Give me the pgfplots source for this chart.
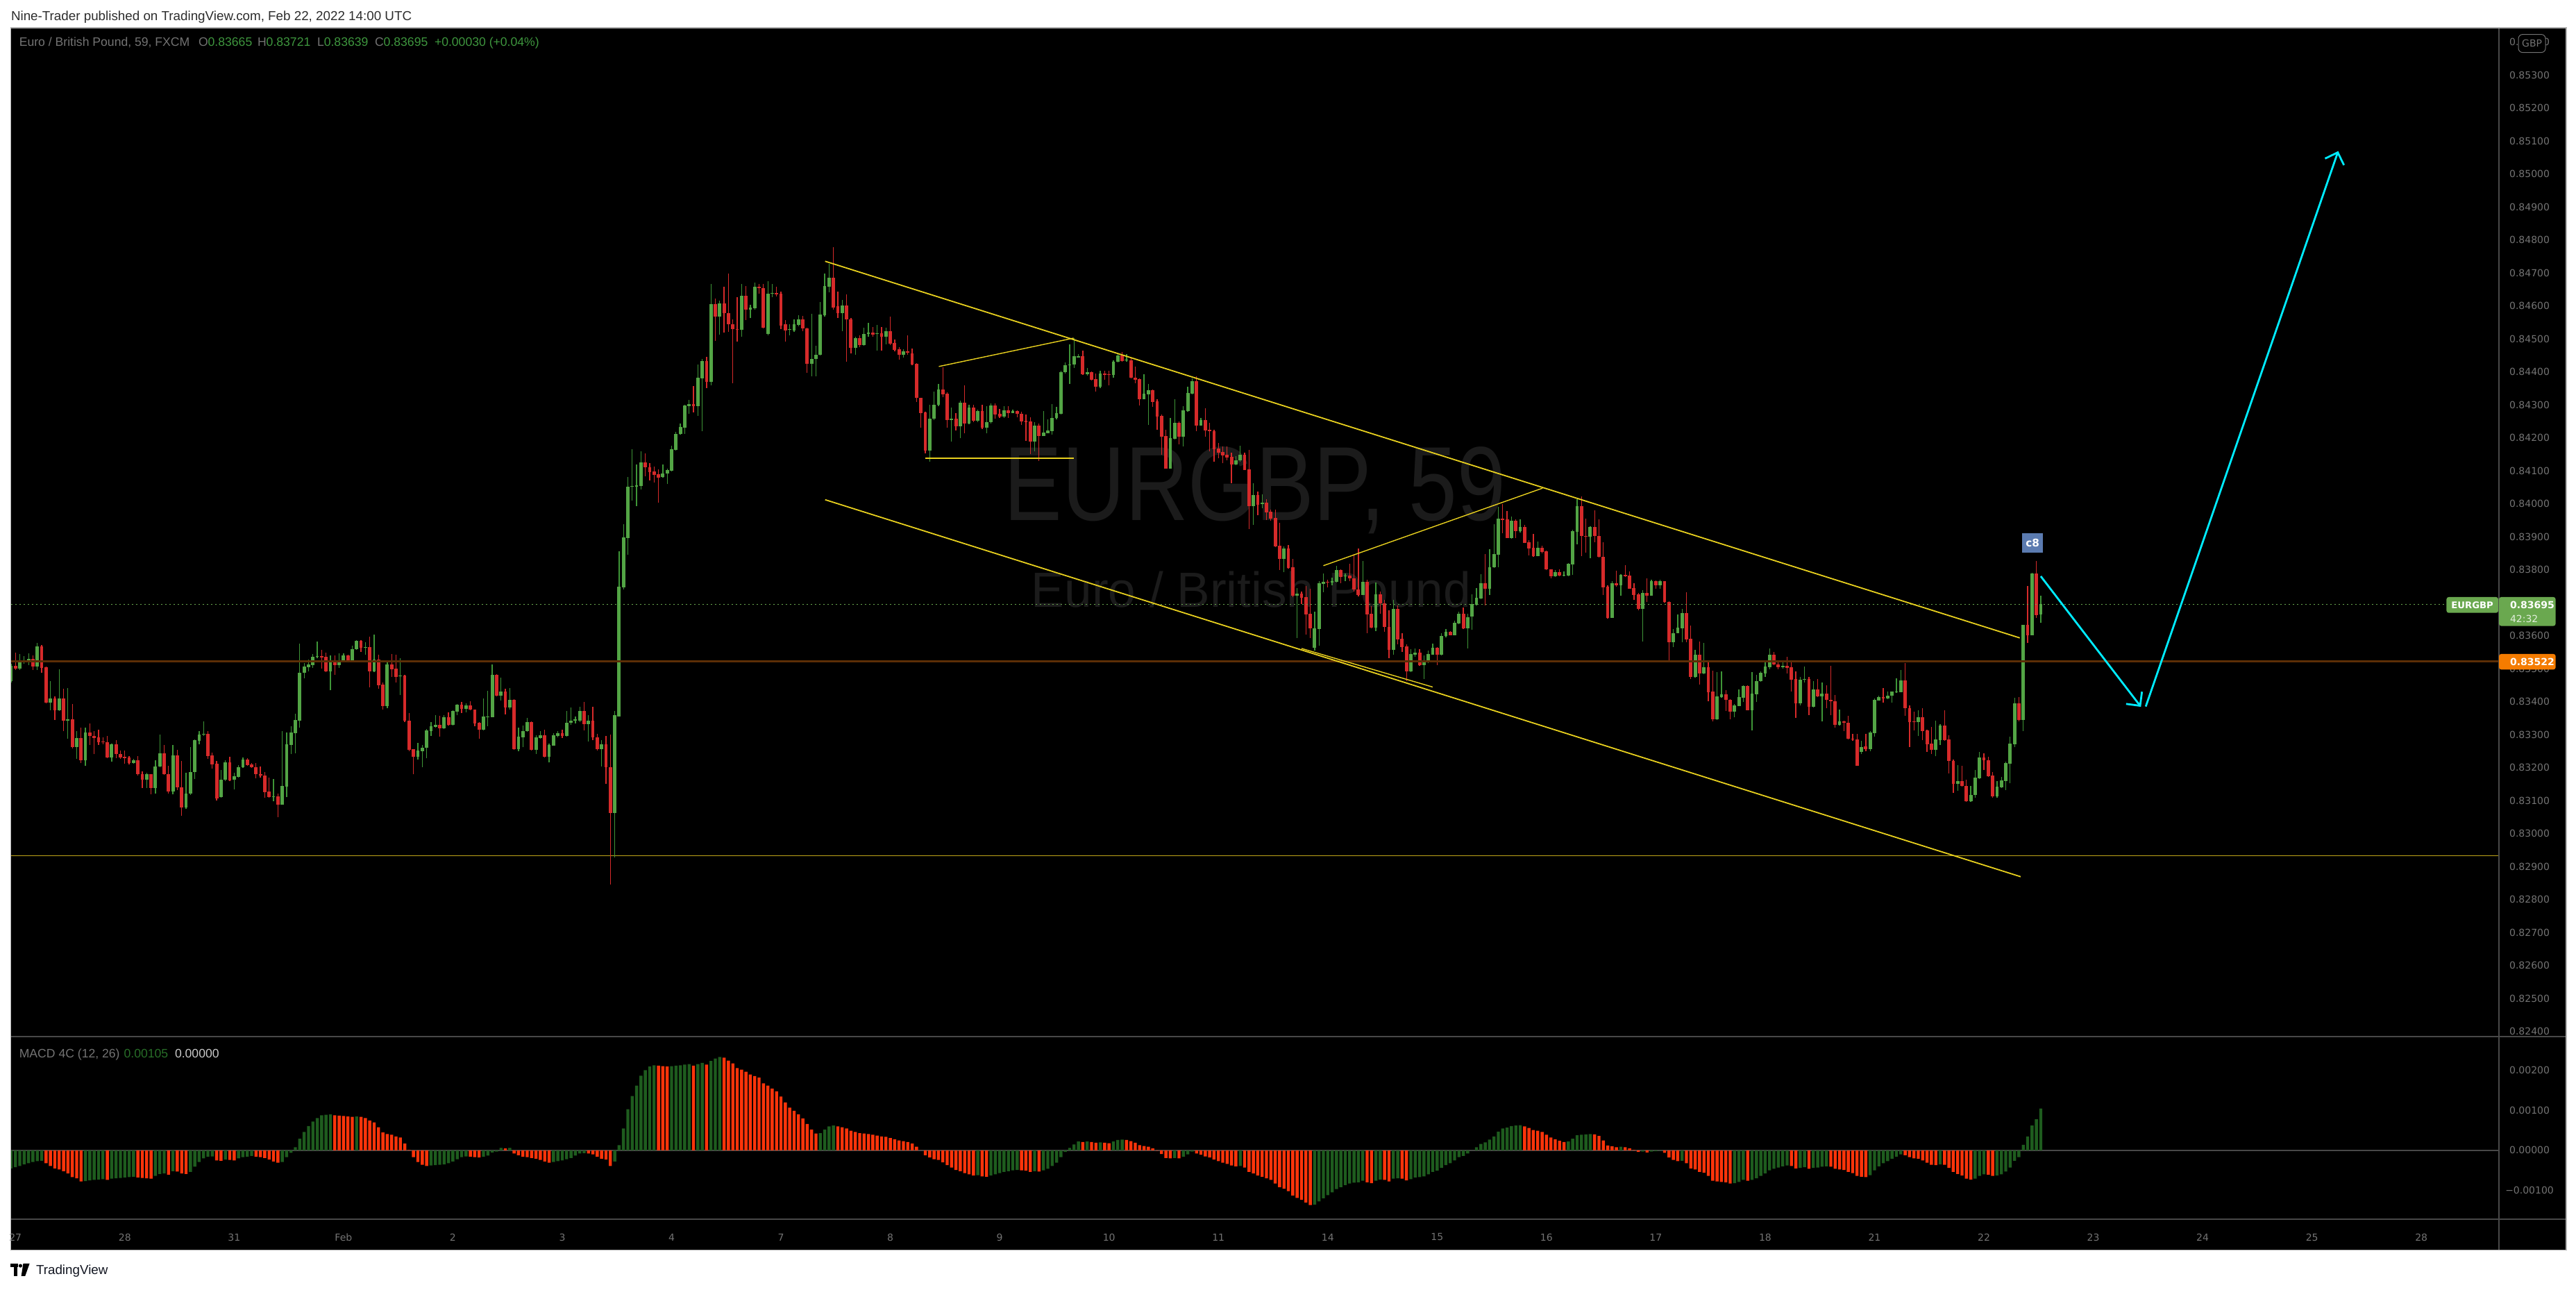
\documentclass[border=0pt]{standalone}
\usepackage{graphicx}
\usepackage{pgfplots}
\pgfplotsset{compat=1.18}
\usepackage{pgfplotstable}
\usetikzlibrary{arrows.meta}
\usepackage{fontspec}
\setmainfont{Liberation Sans}
\newfontfamily\dvs{DejaVu Sans}
\definecolor{upc}{RGB}{83,165,69}
\definecolor{upw}{RGB}{62,150,55}
\definecolor{dnc}{RGB}{214,42,42}
\definecolor{mg}{RGB}{30,92,30}
\definecolor{mr}{RGB}{255,52,10}
\definecolor{txt}{RGB}{115,115,115}
\definecolor{sep}{RGB}{72,72,72}
\definecolor{chan}{RGB}{232,208,30}
\definecolor{hyel}{RGB}{190,165,25}
\definecolor{brn}{RGB}{92,46,6}
\definecolor{cyn}{RGB}{0,235,255}
\definecolor{lg}{RGB}{62,150,62}
\definecolor{tvg}{RGB}{106,168,79}
\definecolor{tvo}{RGB}{245,124,0}
\definecolor{cbox}{RGB}{91,123,176}
\definecolor{wm}{RGB}{27,27,27}
\definecolor{hdr}{RGB}{45,45,45}
\newcommand\axf{\dvs\fontsize{3.5pt}{4pt}\selectfont}
\pgfplotstableread{
k o h l c
-1 83463 83514 83457 83509
1 83499 83545 83496 83519
2 83519 83537 83514 83522
3 83521 83547 83510 83530
5 83507 83578 83496 83568
8 83396 83462 83373 83410
10 83373 83498 83372 83410
12 83341 83441 83288 83346
14 83261 83311 83227 83290
16 83221 83320 83205 83307
22 83231 83273 83217 83271
27 83213 83226 83212 83222
30 83164 83184 83137 83180
32 83137 83222 83122 83203
33 83203 83300 83201 83243
36 83127 83269 83118 83236
39 83079 83184 83074 83121
40 83121 83261 83117 83186
41 83186 83285 83166 83283
42 83282 83310 83271 83300
43 83299 83340 83296 83303
47 83111 83193 83109 83163
48 83163 83222 83159 83216
50 83163 83184 83134 83174
51 83172 83208 83170 83201
52 83200 83231 83198 83224
59 83111 83165 83097 83113
61 83088 83310 83087 83144
62 83142 83307 83111 83271
63 83269 83325 83240 83307
64 83305 83363 83244 83344
65 83343 83576 83320 83488
66 83487 83517 83471 83507
67 83505 83528 83492 83512
68 83511 83544 83503 83536
69 83535 83582 83531 83538
72 83492 83540 83434 83525
74 83511 83547 83501 83525
75 83524 83546 83520 83540
77 83525 83570 83523 83559
78 83558 83587 83556 83584
80 83564 83579 83543 83565
82 83492 83603 83489 83528
85 83387 83519 83379 83512
88 83476 83531 83419 83478
92 83233 83274 83225 83251
93 83250 83268 83201 83260
94 83259 83316 83228 83313
95 83311 83337 83296 83325
96 83324 83359 83320 83329
98 83318 83358 83316 83353
100 83330 83373 83328 83372
101 83370 83392 83358 83390
103 83377 83394 83368 83389
107 83314 83410 83312 83354
108 83353 83432 83326 83355
109 83353 83512 83352 83481
111 83417 83472 83403 83430
113 83383 83441 83375 83405
115 83256 83320 83250 83294
116 83292 83327 83261 83310
117 83310 83351 83308 83337
119 83254 83298 83242 83291
120 83290 83311 83288 83297
122 83233 83273 83215 83269
123 83267 83304 83266 83298
124 83296 83310 83292 83304
126 83296 83371 83294 83335
127 83335 83382 83329 83343
128 83343 83355 83333 83346
129 83341 83385 83338 83372
131 83332 83359 83279 83343
134 83255 83283 83203 83270
137 83062 83371 82928 83358
138 83355 83856 83355 83749
139 83747 83937 83739 83897
140 83895 84081 83846 84051
141 84051 84166 84010 84054
142 84051 84119 83993 84055
143 84053 84158 84042 84126
148 84080 84119 84078 84092
149 84091 84106 84059 84101
150 84100 84175 84097 84166
151 84163 84218 84160 84212
152 84212 84243 84209 84232
153 84230 84299 84212 84297
154 84296 84314 84273 84301
156 84296 84422 84266 84382
157 84380 84438 84219 84433
159 84370 84666 84359 84605
161 84568 84616 84512 84607
166 84527 84666 84507 84631
168 84589 84603 84562 84594
169 84592 84670 84589 84658
172 84514 84675 84511 84637
173 84637 84667 84627 84639
177 84527 84544 84511 84529
178 84525 84559 84520 84544
179 84542 84572 84538 84559
182 84424 84576 84386 84439
183 84438 84478 84386 84452
184 84451 84611 84449 84573
185 84572 84698 84568 84659
186 84658 84728 84640 84685
189 84577 84618 84523 84601
192 84472 84507 84452 84501
194 84481 84533 84478 84514
195 84514 84549 84507 84519
197 84514 84542 84465 84516
199 84507 84533 84484 84524
203 84451 84468 84442 84462
209 84161 84299 84128 84258
210 84257 84340 84253 84300
211 84299 84364 84296 84347
214 84253 84292 84188 84258
216 84235 84312 84199 84307
218 84243 84299 84240 84292
220 84251 84286 84247 84281
222 84230 84296 84213 84248
223 84247 84305 84244 84297
226 84265 84296 84260 84283
228 84275 84285 84274 84280
233 84189 84247 84158 84237
235 84205 84280 84205 84216
236 84213 84255 84213 84221
237 84219 84302 84209 84260
238 84259 84293 84255 84275
239 84273 84402 84270 84399
240 84398 84428 84395 84420
241 84419 84484 84364 84422
242 84421 84503 84412 84448
243 84444 84454 84442 84448
245 84392 84412 84389 84399
248 84355 84402 84350 84395
251 84390 84435 84383 84431
252 84431 84454 84429 84450
254 84434 84454 84431 84435
258 84317 84392 84316 84334
259 84331 84364 84238 84344
264 84107 84260 84106 84198
265 84197 84316 84195 84246
267 84202 84295 84174 84282
268 84281 84354 84278 84335
269 84334 84379 84331 84371
271 84237 84259 84236 84253
279 84119 84144 84117 84132
280 84132 84176 84128 84148
283 83993 84063 83936 84027
285 83998 84029 83987 84002
290 83832 83871 83792 83864
293 83721 83744 83593 83728
297 83564 83672 83555 83621
298 83620 83765 83570 83759
299 83757 83788 83731 83763
301 83760 83776 83753 83765
302 83763 83811 83761 83799
304 83779 83789 83766 83783
308 83724 83826 83723 83763
311 83625 83761 83614 83725
315 83557 83708 83542 83681
319 83492 83558 83490 83545
320 83543 83560 83535 83548
322 83510 83539 83468 83519
323 83518 83555 83516 83545
324 83543 83575 83542 83563
326 83541 83608 83539 83598
327 83598 83620 83595 83612
329 83602 83646 83600 83639
330 83637 83673 83635 83666
332 83621 83666 83562 83656
333 83657 83725 83617 83696
334 83694 83745 83692 83715
335 83713 83787 83710 83759
337 83743 83862 83724 83808
338 83807 83938 83805 83847
339 83846 83991 83808 83955
342 83896 83962 83894 83948
344 83917 83953 83913 83929
348 83842 83885 83840 83866
352 83780 83798 83778 83793
354 83782 83794 83780 83784
355 83782 83819 83780 83817
356 83816 83922 83784 83917
357 83915 84014 83877 83993
360 83899 83932 83835 83929
365 83654 83766 83654 83759
367 83752 83787 83722 83784
372 83682 83738 83582 83730
374 83722 83770 83720 83765
376 83752 83769 83741 83765
379 83579 83619 83566 83608
380 83608 83664 83607 83624
381 83623 83682 83580 83668
384 83475 83556 83473 83542
386 83485 83578 83484 83504
389 83347 83489 83345 83415
390 83414 83492 83412 83422
393 83370 83393 83352 83389
394 83387 83436 83386 83414
395 83412 83450 83398 83447
397 83374 83489 83312 83424
398 83423 83482 83398 83462
399 83461 83492 83459 83487
400 83486 83524 83475 83506
401 83505 83561 83498 83542
404 83505 83520 83499 83508
408 83394 83475 83389 83466
409 83466 83506 83457 83468
411 83384 83462 83381 83436
413 83415 83457 83339 83424
417 83329 83375 83327 83339
422 83247 83282 83240 83263
424 83255 83311 83249 83306
425 83305 83410 83294 83405
426 83404 83417 83403 83414
428 83410 83431 83408 83417
429 83417 83431 83396 83430
430 83428 83471 83426 83431
431 83429 83496 83428 83464
435 83337 83373 83295 83352
439 83254 83342 83234 83285
440 83284 83331 83269 83327
444 83150 83207 83129 83159
447 83097 83144 83096 83116
448 83116 83192 83108 83170
449 83168 83247 83166 83231
453 83113 83158 83108 83142
454 83140 83172 83138 83160
455 83159 83217 83132 83214
456 83212 83294 83152 83273
457 83271 83412 83261 83394
459 83345 83633 83311 83633
461 83601 83791 83601 83789
463 83665 83721 83639 83695
}\upcandles
\pgfplotstableread{
k o h l c
0 83509 83549 83496 83499
4 83530 83540 83496 83507
6 83568 83571 83487 83503
7 83504 83507 83394 83396
9 83410 83415 83345 83373
11 83410 83439 83311 83341
13 83346 83393 83257 83261
15 83290 83320 83214 83221
17 83307 83333 83268 83295
18 83296 83310 83240 83290
19 83292 83314 83269 83277
20 83279 83291 83271 83276
21 83277 83296 83228 83231
23 83271 83283 83228 83240
24 83241 83252 83226 83231
25 83233 83252 83212 83228
26 83231 83235 83210 83213
28 83222 83235 83175 83179
29 83180 83188 83137 83164
31 83180 83180 83118 83137
34 83243 83269 83177 83179
35 83180 83205 83122 83127
37 83236 83254 83132 83141
38 83141 83220 83054 83079
44 83303 83311 83227 83235
45 83236 83245 83196 83210
46 83212 83220 83101 83107
49 83216 83233 83159 83160
53 83224 83229 83205 83207
54 83210 83214 83198 83200
55 83201 83214 83168 83179
56 83180 83203 83170 83175
57 83176 83186 83109 83126
58 83127 83170 83109 83111
60 83113 83120 83050 83088
70 83538 83556 83500 83534
71 83536 83549 83490 83492
73 83525 83540 83482 83511
76 83540 83542 83518 83525
79 83584 83587 83550 83564
81 83565 83596 83444 83492
83 83528 83542 83438 83450
84 83452 83457 83375 83387
86 83512 83545 83475 83498
87 83499 83542 83457 83475
89 83478 83482 83338 83341
90 83342 83365 83250 83254
91 83255 83255 83179 83233
97 83329 83356 83294 83318
99 83353 83368 83327 83330
102 83390 83398 83365 83377
104 83389 83401 83373 83375
105 83376 83376 83326 83334
106 83336 83338 83287 83314
110 83481 83484 83415 83417
112 83431 83438 83362 83383
114 83405 83408 83254 83256
118 83337 83339 83252 83254
121 83297 83314 83231 83233
125 83304 83314 83290 83296
130 83372 83398 83312 83332
132 83343 83385 83283 83292
133 83292 83303 83251 83255
135 83270 83296 83151 83201
136 83201 83300 82845 83062
144 84126 84153 84083 84110
145 84110 84123 84071 84096
146 84098 84113 84064 84087
147 84089 84104 84003 84079
155 84301 84357 84277 84296
158 84433 84446 84351 84370
160 84605 84622 84494 84568
162 84607 84658 84519 84577
163 84577 84698 84520 84544
164 84545 84559 84366 84529
165 84529 84627 84491 84527
167 84631 84659 84557 84589
170 84658 84667 84637 84653
171 84654 84666 84531 84533
174 84639 84657 84628 84635
175 84637 84642 84529 84540
176 84544 84557 84491 84525
180 84559 84570 84524 84531
181 84531 84533 84396 84424
187 84685 84778 84588 84594
188 84598 84644 84563 84577
190 84601 84635 84430 84558
191 84559 84562 84455 84472
193 84501 84510 84475 84481
196 84519 84536 84507 84512
198 84516 84536 84465 84507
200 84524 84568 84481 84485
201 84488 84497 84462 84467
202 84468 84475 84436 84451
204 84462 84511 84452 84458
205 84456 84470 84419 84422
206 84424 84426 84309 84321
207 84321 84321 84231 84275
208 84277 84279 84153 84161
212 84347 84413 84322 84331
213 84334 84338 84231 84253
215 84258 84275 84221 84235
217 84307 84359 84213 84243
219 84292 84299 84247 84251
221 84281 84299 84227 84230
224 84297 84305 84257 84271
225 84273 84288 84260 84265
227 84283 84296 84260 84275
229 84280 84282 84261 84272
230 84272 84278 84238 84249
231 84252 84270 84190 84247
232 84249 84262 84151 84189
234 84237 84242 84130 84205
244 84448 84464 84390 84392
246 84399 84400 84373 84376
247 84378 84395 84340 84355
249 84395 84402 84376 84391
250 84392 84404 84358 84390
253 84450 84460 84431 84432
255 84435 84442 84379 84381
256 84381 84415 84366 84376
257 84377 84379 84297 84317
260 84344 84347 84293 84308
261 84311 84316 84224 84264
262 84266 84270 84148 84203
263 84205 84224 84107 84107
266 84246 84249 84180 84202
270 84371 84387 84220 84237
272 84253 84289 84203 84222
273 84224 84246 84158 84219
274 84220 84225 84127 84165
275 84167 84184 84138 84155
276 84157 84174 84122 84146
277 84148 84174 84132 84140
278 84141 84155 84063 84119
281 84148 84154 84102 84103
282 84104 84163 83924 83993
284 84027 84037 83965 83996
286 84002 84014 83951 83974
287 83975 83981 83949 83955
288 83956 83981 83868 83871
289 83872 83941 83799 83832
291 83864 83874 83803 83806
292 83807 83832 83717 83721
294 83728 83734 83695 83715
295 83717 83751 83604 83665
296 83666 83742 83593 83621
300 83763 83769 83746 83760
303 83799 83802 83759 83778
305 83783 83817 83765 83773
306 83774 83848 83734 83739
307 83740 83864 83719 83724
309 83763 83769 83608 83665
310 83666 83689 83623 83625
312 83725 83734 83666 83698
313 83698 83708 83612 83626
314 83627 83677 83532 83557
316 83681 83692 83574 83589
317 83591 83608 83551 83566
318 83568 83574 83463 83492
321 83548 83558 83509 83510
325 83563 83566 83510 83541
328 83612 83614 83600 83602
331 83666 83685 83620 83621
336 83759 83847 83692 83743
340 83955 83999 83910 83951
341 83953 83978 83896 83896
343 83948 83952 83896 83917
345 83929 83936 83880 83882
346 83883 83889 83843 83864
347 83866 83908 83838 83841
349 83866 83873 83850 83854
350 83856 83857 83798 83800
351 83801 83802 83774 83780
353 83793 83802 83780 83782
358 83993 84022 83842 83901
359 83902 83955 83852 83899
361 83929 83980 83884 83901
362 83902 83952 83836 83838
363 83839 83883 83724 83747
364 83748 83752 83652 83654
366 83759 83796 83748 83752
368 83784 83814 83777 83780
369 83781 83795 83741 83743
370 83744 83759 83708 83724
371 83725 83730 83676 83680
373 83730 83773 83703 83722
375 83765 83767 83743 83752
377 83765 83766 83699 83701
378 83702 83704 83522 83579
382 83668 83731 83580 83589
383 83590 83631 83469 83475
385 83542 83582 83452 83485
387 83504 83522 83400 83429
388 83431 83494 83339 83347
391 83422 83435 83372 83405
392 83406 83408 83347 83370
396 83447 83449 83373 83374
402 83542 83551 83510 83512
403 83513 83524 83498 83505
405 83508 83536 83485 83503
406 83504 83520 83431 83466
407 83468 83492 83351 83394
410 83468 83475 83359 83384
412 83436 83468 83414 83415
414 83424 83449 83379 83405
415 83406 83508 83358 83400
416 83401 83419 83320 83329
418 83340 83343 83310 83336
419 83336 83357 83285 83287
420 83287 83303 83282 83285
421 83285 83303 83206 83206
423 83264 83303 83249 83255
427 83414 83440 83396 83410
432 83464 83517 83357 83379
433 83380 83389 83263 83337
434 83338 83370 83312 83337
436 83352 83380 83284 83311
437 83313 83315 83248 83271
438 83273 83324 83242 83254
441 83327 83373 83282 83283
442 83285 83297 83182 83219
443 83220 83224 83124 83150
445 83159 83205 83142 83144
446 83144 83163 83096 83097
450 83231 83243 83193 83221
451 83222 83233 83172 83173
452 83175 83186 83108 83113
458 83394 83414 83340 83345
460 83633 83750 83577 83601
462 83789 83826 83654 83663
}\dncandles
\begin{document}
\begin{tikzpicture}
\fill[white] (0pt,0pt) rectangle (927.75pt,-464.5pt);
\fill[black] (3.75pt,-10pt) rectangle (924.25pt,-450.25pt);
% watermark
\node[anchor=base west, inner sep=0pt, text=wm] at (361.5pt,-187.5pt) {\resizebox{180.5pt}{26.5pt}{EURGBP, 59}};
\node[anchor=base west, inner sep=0pt, text=wm, font=\fontsize{17.8pt}{20pt}\selectfont] at (371.25pt,-218.75pt) {Euro / British Pound};
% main price pane
\begin{axis}[
  at={(3.75pt,-10pt)}, anchor=north west,
  width=896.25pt, height=363.25pt, scale only axis,
  xmin=-1.111, xmax=567.75, ymin=82384.4, ymax=85443,
  axis line style={draw=none}, major tick length=0pt,
  scaled y ticks=false, scaled x ticks=false,
  xtick=\empty,
  ytick={82400,82500,82600,82700,82800,82900,83000,83100,83200,83300,83400,83500,83600,83700,83800,83900,84000,84100,84200,84300,84400,84500,84600,84700,84800,84900,85000,85100,85200,85300,85400},
  yticklabels={0.82400,0.82500,0.82600,0.82700,0.82800,0.82900,0.83000,0.83100,0.83200,0.83300,0.83400,0.83500,0.83600,0.83700,0.83800,0.83900,0.84000,0.84100,0.84200,0.84300,0.84400,0.84500,0.84600,0.84700,0.84800,0.84900,0.85000,0.85100,0.85200,0.85300,0.85400},
  yticklabel pos=right,
  yticklabel style={anchor=center, xshift=11pt, font=\axf, text=txt},
]
\draw[hyel, line width=0.4pt] (axis cs:-2,82933) -- (axis cs:570,82933);
% wicks
\addplot[upw, line width=0.32pt, mark=none, forget plot, quiver={u=0, v=\thisrow{h}-\thisrow{l}}] table[x=k, y=l] {\upcandles};
\addplot[dnc, line width=0.32pt, mark=none, forget plot, quiver={u=0, v=\thisrow{h}-\thisrow{l}}] table[x=k, y=l] {\dncandles};
% bodies
\addplot[upc, line width=1.2pt, mark=none, forget plot, quiver={u=0, v={max(\thisrow{c}-\thisrow{o},2)}}] table[x=k, y=o] {\upcandles};
\addplot[dnc, line width=1.2pt, mark=none, forget plot, quiver={u=0, v={max(\thisrow{o}-\thisrow{c},2)}}] table[x=k, y=c] {\dncandles};
% drawings
\draw[brn, line width=0.8pt] (axis cs:-2,83522) -- (axis cs:570,83522);
\draw[tvg, line width=0.3pt, dash pattern=on 0.5pt off 1pt] (axis cs:-2,83695) -- (axis cs:555.7,83695);
\draw[chan, line width=0.45pt] (axis cs:185.1,84735) -- (axis cs:458.2,83593);
\draw[chan, line width=0.45pt] (axis cs:185.1,84012) -- (axis cs:458.4,82869);
\draw[chan, line width=0.35pt] (axis cs:211.1,84416) -- (axis cs:241.9,84502);
\draw[chan, line width=0.35pt] (axis cs:208.0,84138) -- (axis cs:241.9,84138);
\draw[chan, line width=0.35pt] (axis cs:299.0,83812) -- (axis cs:349.1,84047);
\draw[chan, line width=0.35pt] (axis cs:294.0,83561) -- (axis cs:324.0,83444);
\draw[cyn, line width=0.7pt, -{Straight Barb[length=3.6pt,width=7.2pt]}] (axis cs:463.0,83780) -- (axis cs:485.9,83384);
\draw[cyn, line width=0.7pt, -{Straight Barb[length=3.6pt,width=7.2pt]}] (axis cs:487.0,83385) -- (axis cs:531.0,85069);
\end{axis}
% MACD pane
\begin{axis}[
  at={(3.75pt,-373.25pt)}, anchor=north west,
  width=896.25pt, height=65.75pt, scale only axis,
  xmin=-1.111, xmax=567.75, ymin=-172.2, ymax=285.2,
  axis line style={draw=none}, major tick length=0pt,
  scaled y ticks=false, scaled x ticks=false,
  xtick={0,25,...,550},
  xticklabels={27,28,31,Feb,2,3,4,7,8,9,10,11,14,15,16,17,18,21,22,23,24,25,28},
  xticklabel style={anchor=center, yshift=-6.5pt, font=\axf, text=txt},
  ytick={-100,0,100,200},
  yticklabels={−0.00100,0.00000,0.00100,0.00200},
  yticklabel pos=right,
  yticklabel style={anchor=center, xshift=11pt, font=\axf, text=txt},
]
\draw[sep, line width=0.4pt] (axis cs:-2,0) -- (axis cs:570,0);
\addplot[ybar, bar width=1.1pt, bar shift=0pt, draw=none, fill=mg] coordinates {
(-1,-45) (0,-42) (1,-39) (2,-35) (3,-32) (4,-29) (5,-27) (6,-26) (16,-77) (17,-75) (18,-74) (19,-73) (20,-72) (22,-71) (23,-70) (24,-69) (25,-68) (26,-67) (27,-66) (32,-64) (33,-59) (34,-58) (36,-52) (40,-54) (41,-41) (42,-29) (43,-20) (44,-16) (45,-15) (48,-23) (51,-20) (52,-17) (53,-16) (54,-14) (61,-29) (62,-17) (63,-6) (64,8) (65,29) (66,46) (67,61) (68,72) (69,81) (70,88) (71,89) (72,90) (78,85) (95,-38) (96,-37) (97,-36) (98,-35) (99,-32) (100,-28) (101,-22) (102,-17) (103,-15) (107,-16) (108,-13) (109,-5) (110,-3) (111,6) (113,6) (123,-29) (124,-27) (125,-25) (126,-22) (127,-19) (128,-13) (129,-8) (130,-7) (137,-28) (138,13) (139,55) (140,103) (141,136) (142,162) (143,187) (144,201) (145,210) (146,213) (150,211) (151,212) (152,213) (153,215) (154,216) (156,216) (157,219) (159,224) (160,230) (161,234) (184,43) (185,52) (186,60) (187,62) (220,-62) (223,-63) (224,-60) (225,-57) (226,-54) (227,-52) (228,-50) (229,-49) (233,-52) (235,-50) (236,-46) (237,-39) (238,-31) (239,-17) (240,-4) (241,6) (242,15) (243,22) (245,22) (248,20) (251,22) (252,26) (253,27) (265,-19) (267,-16) (268,-10) (269,-3) (280,-39) (297,-136) (298,-128) (299,-120) (300,-112) (301,-105) (302,-97) (303,-92) (304,-87) (305,-83) (306,-81) (307,-80) (308,-76) (311,-76) (312,-73) (315,-71) (316,-70) (319,-72) (320,-68) (321,-67) (322,-65) (323,-60) (324,-54) (325,-51) (326,-44) (327,-37) (328,-32) (329,-25) (330,-17) (331,-14) (332,-8) (333,0) (334,8) (335,16) (336,20) (337,27) (338,35) (339,47) (340,55) (341,57) (342,61) (343,62) (344,63) (355,22) (356,29) (357,38) (358,39) (359,40) (360,41) (367,9) (372,-3) (374,-3) (375,-2) (376,-1) (381,-26) (393,-82) (394,-79) (395,-74) (397,-74) (398,-70) (399,-64) (400,-58) (401,-50) (402,-46) (403,-43) (404,-40) (405,-38) (408,-44) (409,-42) (411,-44) (412,-43) (413,-41) (414,-40) (424,-62) (425,-50) (426,-40) (427,-32) (428,-27) (429,-21) (430,-16) (431,-10) (440,-35) (448,-71) (449,-64) (450,-60) (453,-63) (454,-60) (455,-53) (456,-43) (457,-26) (458,-17) (459,14) (460,35) (461,62) (462,78) (463,105)
};
\addplot[ybar, bar width=1.1pt, bar shift=0pt, draw=none, fill=mr] coordinates {
(7,-32) (8,-39) (9,-45) (10,-48) (11,-52) (12,-58) (13,-67) (14,-70) (15,-78) (21,-74) (28,-68) (29,-69) (30,-70) (31,-71) (35,-61) (37,-53) (38,-58) (39,-59) (46,-25) (47,-26) (49,-24) (50,-25) (55,-16) (56,-17) (57,-19) (58,-23) (59,-28) (60,-31) (73,88) (74,87) (75,86) (76,85) (77,84) (79,84) (80,81) (81,75) (82,70) (83,58) (84,45) (85,41) (86,39) (87,35) (88,32) (89,17) (90,1) (91,-17) (92,-29) (93,-36) (94,-39) (104,-16) (105,-17) (106,-18) (112,5) (114,-8) (115,-12) (116,-16) (117,-17) (118,-19) (119,-21) (120,-24) (121,-28) (122,-31) (131,-8) (132,-10) (133,-16) (134,-21) (135,-23) (136,-39) (147,212) (148,211) (149,210) (155,212) (158,215) (162,232) (163,225) (164,218) (165,206) (166,202) (167,197) (168,190) (169,186) (170,182) (171,168) (172,162) (173,155) (174,148) (175,135) (176,120) (177,107) (178,99) (179,90) (180,80) (181,66) (182,52) (183,42) (188,60) (189,58) (190,55) (191,49) (192,46) (193,43) (194,42) (195,41) (196,39) (197,37) (198,35) (199,34) (200,31) (201,28) (202,25) (203,23) (204,21) (205,17) (206,9) (207,0) (208,-12) (209,-18) (210,-22) (211,-24) (212,-30) (213,-37) (214,-43) (215,-49) (216,-52) (217,-57) (218,-60) (219,-63) (221,-65) (222,-66) (230,-50) (231,-51) (232,-54) (234,-53) (244,21) (246,21) (247,19) (249,19) (250,18) (254,26) (255,23) (256,19) (257,13) (258,11) (259,9) (260,5) (261,-1) (262,-9) (263,-19) (264,-20) (266,-20) (270,-8) (271,-11) (272,-15) (273,-18) (274,-23) (275,-27) (276,-31) (277,-34) (278,-38) (279,-40) (281,-43) (282,-54) (283,-58) (284,-63) (285,-66) (286,-70) (287,-74) (288,-83) (289,-92) (290,-96) (291,-102) (292,-113) (293,-119) (294,-124) (295,-131) (296,-137) (309,-80) (310,-82) (313,-74) (314,-78) (317,-71) (318,-75) (345,60) (346,56) (347,51) (348,49) (349,46) (350,39) (351,32) (352,28) (353,24) (354,21) (361,40) (362,36) (363,25) (364,12) (365,10) (366,8) (368,8) (369,5) (370,1) (371,-4) (373,-5) (377,-6) (378,-18) (379,-24) (380,-27) (382,-32) (383,-45) (384,-48) (385,-54) (386,-56) (387,-64) (388,-76) (389,-78) (390,-79) (391,-80) (392,-83) (396,-76) (406,-39) (407,-45) (410,-46) (415,-41) (416,-46) (417,-48) (418,-49) (419,-54) (420,-57) (421,-64) (422,-66) (423,-67) (432,-12) (433,-17) (434,-20) (435,-21) (436,-25) (437,-31) (438,-36) (439,-37) (441,-36) (442,-44) (443,-54) (444,-59) (445,-63) (446,-71) (447,-73) (451,-61) (452,-64)
};
\end{axis}
% separators
\draw[sep, line width=0.5pt] (3.75pt,-373.25pt) -- (924.25pt,-373.25pt);
\draw[sep, line width=0.5pt] (3.75pt,-439pt) -- (924.25pt,-439pt);
\draw[sep, line width=0.4pt] (900pt,-10pt) -- (900pt,-450.25pt);
\draw[gray!60, line width=0.3pt] (3.75pt,-10pt) rectangle (924.25pt,-450.25pt);
% header
\node[anchor=base west, inner sep=0pt, text=hdr, font=\fontsize{4.7pt}{5pt}\selectfont] at (3.75pt,-7.3pt) {Nine-Trader published on TradingView.com, Feb 22, 2022 14:00 UTC};
% legend
\begin{scope}[every node/.style={anchor=base west, inner sep=0pt, font=\fontsize{4.4pt}{5pt}\selectfont}]
\node[text=txt] at (6.7pt,-16.75pt) {Euro / British Pound, 59, FXCM};
\node at (71.25pt,-16.75pt) {\textcolor{txt}{O}\textcolor{lg}{0.83665}};
\node at (92.5pt,-16.75pt) {\textcolor{txt}{H}\textcolor{lg}{0.83721}};
\node at (114pt,-16.75pt) {\textcolor{txt}{L}\textcolor{lg}{0.83639}};
\node at (134.75pt,-16.75pt) {\textcolor{txt}{C}\textcolor{lg}{0.83695}};
\node[text=lg] at (156.25pt,-16.75pt) {+0.00030 (+0.04\%)};
\node[text=txt] at (6.7pt,-380.9pt) {MACD 4C (12, 26)};
\node[text={rgb,255:red,40;green,110;blue,40}] at (44.4pt,-380.9pt) {0.00105};
\node[text={rgb,255:red,200;green,200;blue,200}] at (62.75pt,-380.9pt) {0.00000};
\end{scope}
% right-side labels
\draw[fill=black, draw=txt, rounded corners=1.5pt, line width=0.25pt] (907pt,-12.4pt) rectangle (916.75pt,-18.9pt);
\node[text=txt, font=\axf, inner sep=0pt] at (911.9pt,-15.65pt) {GBP};
\fill[tvg, rounded corners=0.8pt] (881.1pt,-215pt) rectangle (899.75pt,-220.7pt);
\node[text=white, font=\dvs\bfseries\fontsize{3.3pt}{4pt}\selectfont, inner sep=0pt] at (890.4pt,-217.85pt) {EURGBP};
\fill[tvg, rounded corners=0.8pt] (900pt,-215pt) rectangle (920.4pt,-225.4pt);
\node[anchor=west, text=white, font=\dvs\bfseries\fontsize{3.5pt}{4pt}\selectfont, inner sep=0pt] at (903.8pt,-217.9pt) {0.83695};
\node[anchor=west, text={rgb,255:red,225;green,238;blue,220}, font=\axf, inner sep=0pt] at (903.8pt,-222.9pt) {42:32};
\fill[tvo, rounded corners=0.8pt] (900pt,-235.5pt) rectangle (920.4pt,-241.1pt);
\node[anchor=west, text=white, font=\dvs\bfseries\fontsize{3.5pt}{4pt}\selectfont, inner sep=0pt] at (903.8pt,-238.3pt) {0.83522};
\fill[cbox] (728.3pt,-192.1pt) rectangle (735.7pt,-198.9pt);
\node[text=white, font=\dvs\bfseries\fontsize{3.8pt}{4pt}\selectfont, inner sep=0pt] at (732pt,-195.5pt) {c8};
% TradingView logo
\fill[black] (3.6pt,-455pt) rectangle (6.5pt,-456.3pt);
\fill[black] (5pt,-456.3pt) rectangle (6.3pt,-459.5pt);
\fill[black] (7.3pt,-455.8pt) circle (0.65pt);
\fill[black] (8.3pt,-455pt) -- (10.6pt,-455pt) -- (9pt,-459.5pt) -- (7.6pt,-459.5pt) -- cycle;
\node[anchor=base west, inner sep=0pt, text={rgb,255:red,19;green,23;blue,34}, font=\fontsize{4.7pt}{5pt}\selectfont] at (12.75pt,-459pt) {TradingView};
\end{tikzpicture}
\end{document}
